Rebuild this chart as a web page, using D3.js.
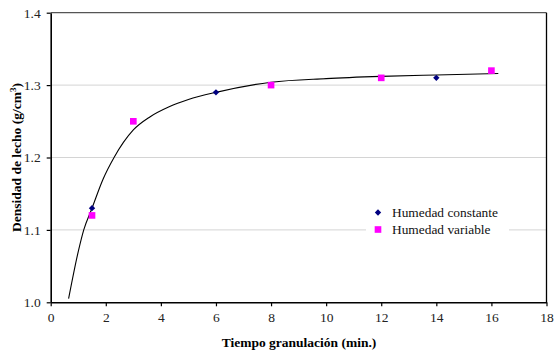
<!DOCTYPE html>
<html>
<head>
<meta charset="utf-8">
<script src="https://cdn.jsdelivr.net/npm/d3@7.9.0/dist/d3.min.js"></script>
<style>
  body { margin: 0; background: #fff; }
  svg text { font-family: "Liberation Serif", "Times New Roman", Times, "DejaVu Serif", serif !important; }
</style>
</head>
<body>
<div id="chart"></div>
<script>
// --- Data ---
const constTime = [1.5, 6, 14];
const constDensity = [1.13, 1.29, 1.31];

const varTime = [1.5, 3, 8, 12, 16];
const varDensity = [1.12, 1.25, 1.30, 1.31, 1.32];

// fitted trend curve
const fitTime = [0.65, 1.0, 1.2, 1.5, 1.9, 2.3, 3.0, 3.6, 4.3, 5, 6, 8, 10, 12, 14, 16.25];
const fitDensity = [1.005, 1.07, 1.10, 1.13, 1.17, 1.20, 1.238, 1.256, 1.27, 1.28, 1.29, 1.304, 1.309, 1.312, 1.314, 1.316];

const xTicks = [0, 2, 4, 6, 8, 10, 12, 14, 16, 18];
const yTicks = [1.0, 1.1, 1.2, 1.3, 1.4];

const seriesNames = ["Humedad constante", "Humedad variable"];

// --- Layout ---
const width = 555;
const height = 354;
const margin = { top: 12.7, right: 8.5, bottom: 51.7, left: 50.7 };
const plot = {
  left: margin.left,
  right: width - margin.right,
  top: margin.top,
  bottom: height - margin.bottom,
};

const svg = d3.select("#chart")
  .append("svg")
  .attr("width", width)
  .attr("height", height);

const xScale = d3.scaleLinear().domain([0, 18]).range([plot.left, plot.right]);
const yScale = d3.scaleLinear().domain([1.0, 1.4]).range([plot.bottom, plot.top]);

// --- Gridlines ---
svg.append("g")
  .selectAll("line")
  .data(yTicks.slice(1, -1))
  .join("line")
  .attr("x1", plot.left)
  .attr("x2", plot.right)
  .attr("y1", (d) => yScale(d))
  .attr("y2", (d) => yScale(d))
  .attr("stroke", "#d4d4d4")
  .attr("stroke-width", 1);

// --- Frame (top edge a bit lighter, like the original) ---
svg.append("line")
  .attr("x1", plot.left).attr("x2", plot.right)
  .attr("y1", plot.top).attr("y2", plot.top)
  .attr("stroke", "#555")
  .attr("stroke-width", 1.3);
svg.append("line")
  .attr("x1", plot.right).attr("x2", plot.right)
  .attr("y1", plot.top).attr("y2", plot.bottom)
  .attr("stroke", "#000")
  .attr("stroke-width", 1.3);

// --- Axes ---
const xAxis = d3.axisBottom(xScale)
  .tickValues(xTicks)
  .tickSize(4)
  .tickSizeOuter(0)
  .tickFormat(d3.format("d"));

const yAxis = d3.axisLeft(yScale)
  .tickValues(yTicks)
  .tickSize(4)
  .tickSizeOuter(0)
  .tickFormat(d3.format(".1f"));

const gx = svg.append("g")
  .attr("transform", `translate(0, ${plot.bottom})`)
  .call(xAxis);
gx.select(".domain").attr("stroke-width", 1.6);
gx.selectAll(".tick line").attr("stroke-width", 1.2);
gx.selectAll("text")
  .attr("font-size", 13.5)
  .attr("fill", "#222")
  .attr("y", 8)
  .attr("dy", "0.9em");

const gy = svg.append("g")
  .attr("transform", `translate(${plot.left}, 0)`)
  .call(yAxis);
gy.select(".domain").attr("stroke-width", 1.6);
gy.selectAll(".tick line").attr("stroke-width", 1.2);
gy.selectAll("text")
  .attr("font-size", 13.5)
  .attr("fill", "#222")
  .attr("x", -10);

// --- Trend curve ---
const fitPoints = fitTime.map((t, i) => [t, fitDensity[i]]);
const line = d3.line()
  .x((d) => xScale(d[0]))
  .y((d) => yScale(d[1]))
  .curve(d3.curveMonotoneX);

svg.append("path")
  .datum(fitPoints)
  .attr("d", line)
  .attr("fill", "none")
  .attr("stroke", "#000")
  .attr("stroke-width", 1.1);

// --- Markers ---
const diamond = d3.symbol().type(d3.symbolDiamond2).size(26);
const square = d3.symbol().type(d3.symbolSquare).size(44);

svg.append("g")
  .selectAll("path")
  .data(varTime.map((t, i) => [t, varDensity[i]]))
  .join("path")
  .attr("d", square)
  .attr("transform", (d) => `translate(${xScale(d[0])}, ${yScale(d[1])})`)
  .attr("fill", "#ff00ff");

svg.append("g")
  .selectAll("path")
  .data(constTime.map((t, i) => [t, constDensity[i]]))
  .join("path")
  .attr("d", diamond)
  .attr("transform", (d) => `translate(${xScale(d[0])}, ${yScale(d[1])})`)
  .attr("fill", "#000080");

// --- Legend ---
const legend = svg.append("g").attr("transform", "translate(366, 203)");
legend.append("rect")
  .attr("width", 143)
  .attr("height", 36)
  .attr("fill", "#fff");

const legendRows = legend.selectAll("g.row")
  .data(seriesNames)
  .join("g")
  .attr("class", "row")
  .attr("transform", (d, i) => `translate(12, ${9.5 + i * 17})`);

legendRows.append("path")
  .attr("d", (d, i) => (i === 0 ? diamond() : square()))
  .attr("fill", (d, i) => (i === 0 ? "#000080" : "#ff00ff"));

legendRows.append("text")
  .attr("x", 14)
  .attr("dy", "0.35em")
  .attr("font-size", 13.4)
  .attr("fill", "#111")
  .text((d) => d);

// --- Axis titles ---
svg.append("text")
  .attr("x", 299)
  .attr("y", 347)
  .attr("text-anchor", "middle")
  .attr("font-size", 13.5)
  .attr("font-weight", "bold")
  .text("Tiempo granulación (min.)");

const yTitle = svg.append("text")
  .attr("transform", `translate(21, ${(plot.top + plot.bottom) / 2}) rotate(-90)`)
  .attr("text-anchor", "middle")
  .attr("font-size", 13.5)
  .attr("font-weight", "bold");
yTitle.append("tspan").text("Densidad de lecho (g/cm");
yTitle.append("tspan").attr("baseline-shift", "super").attr("font-size", 9).text("3");
yTitle.append("tspan").text(")");
</script>
</body>
</html>
